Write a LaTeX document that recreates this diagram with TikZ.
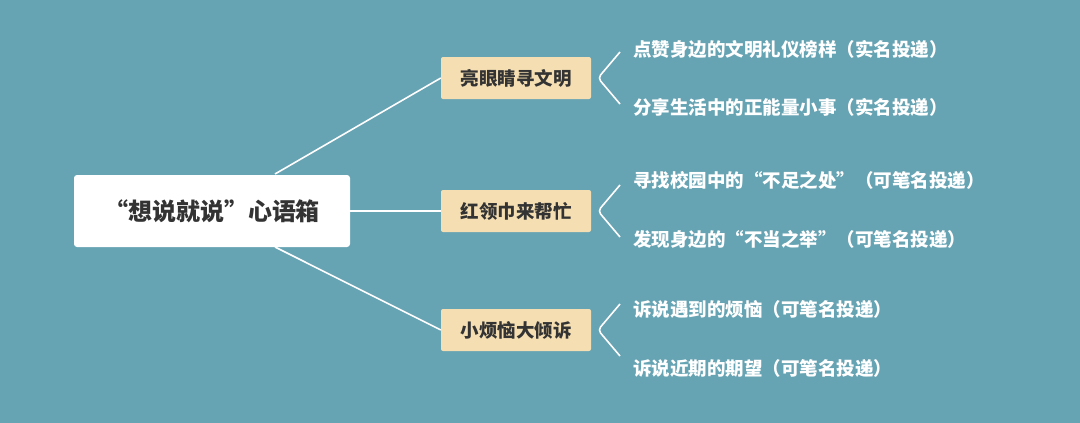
\documentclass[tikz,border=0pt]{standalone}
\usepackage{fontspec}
\newfontfamily\cjk{Noto Sans CJK SC}
\definecolor{bg}{HTML}{66A3B3}
\definecolor{beige}{HTML}{F5DFB2}
\definecolor{dark}{HTML}{333333}
\begin{document}
\begin{tikzpicture}[x=1pt,y=-1pt,
  rootbox/.style={fill=white,rounded corners=3pt,minimum width=276pt,minimum height=72pt,text=dark,font=\cjk\bfseries\fontsize{24}{28}\selectfont},
  branch/.style={fill=beige,rounded corners=2pt,minimum width=150pt,minimum height=42pt,text=dark,font=\cjk\bfseries\fontsize{18.5}{22}\selectfont},
  leaf/.style={anchor=west,text=white,inner sep=0pt,font=\cjk\bfseries\fontsize{18.5}{21}\selectfont},
  conn/.style={white,line width=1.6pt},
  brk/.style={white,line width=1.6pt,rounded corners=4pt}]
\fill[bg] (0,0) rectangle (1080,423);
\useasboundingbox (0,0) rectangle (1080,423);
\node[rootbox] (root) at (212,211) {“想说就说”心语箱};
\node[branch] (b1) at (516,78) {亮眼睛寻文明};
\node[branch] (b2) at (516,211) {红领巾来帮忙};
\node[branch] (b3) at (516,330) {小烦恼大倾诉};
\coordinate (r1) at (275,174);
\coordinate (r3) at (275,247);
\draw[conn] (r1) -- (b1.west);
\draw[conn] (root.east) -- (b2.west);
\draw[conn] (r3) -- (b3.west);
\foreach \n/\y in {1/78,2/211,3/330}{
  \coordinate (t\n) at (620,\y-26);
  \coordinate (m\n) at (598,\y);
  \coordinate (u\n) at (620,\y+26);
  \draw[brk] (t\n) -- (m\n) -- (u\n);
}
\node[leaf] (l1) at (633,49) {点赞身边的文明礼仪榜样（实名投递）};
\node[leaf] (l2) at (633,107) {分享生活中的正能量小事（实名投递）};
\node[leaf] (l3) at (633,180) {寻找校园中的“不足之处”（可笔名投递）};
\node[leaf] (l4) at (633,239) {发现身边的“不当之举”（可笔名投递）};
\node[leaf] (l5) at (633,309) {诉说遇到的烦恼（可笔名投递）};
\node[leaf] (l6) at (633,368) {诉说近期的期望（可笔名投递）};
\end{tikzpicture}
\end{document}
